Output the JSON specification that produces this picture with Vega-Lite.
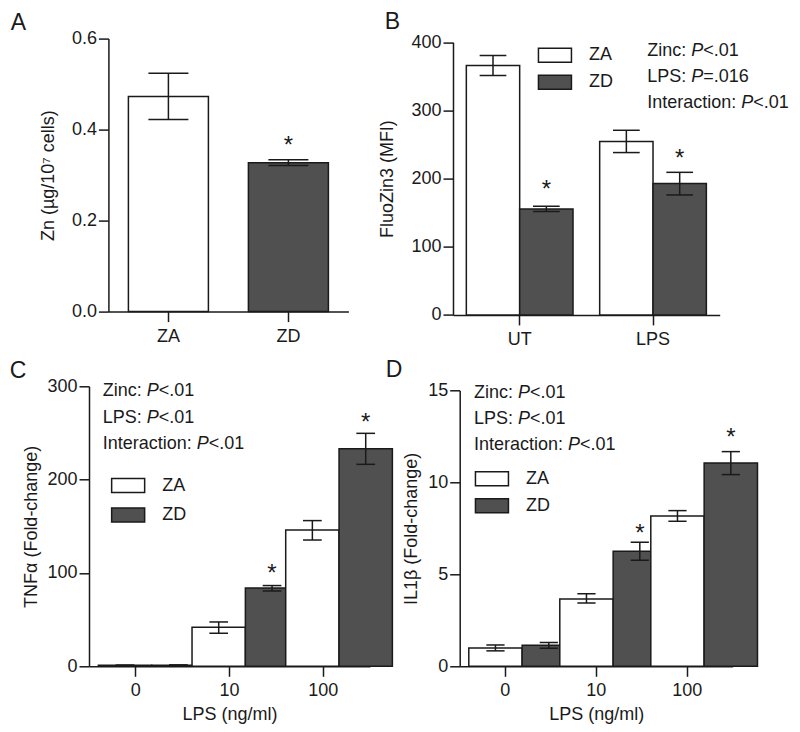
{
  "$schema": "https://vega.github.io/schema/vega-lite/v6.json",
  "autosize": {"type": "pad"},
  "padding": {"left": 9, "top": 10.6, "right": 4, "bottom": 10},
  "background": "white",
  "config": {
    "font": "Liberation Sans",
    "view": {"stroke": null},
    "axis": {"labelFont": "Liberation Sans", "labelFontSize": 18, "labelColor": "#1a1a1a", "titleFont": "Liberation Sans", "titleFontSize": 18, "titleFontWeight": "normal", "titleColor": "#1a1a1a", "domainColor": "#1a1a1a", "domainWidth": 1.5, "tickColor": "#1a1a1a", "tickWidth": 1.5, "tickSize": 10, "grid": false, "labelPadding": 2},
    "axisX": {"labelAngle": 0},
    "legend": {"symbolType": "M-2,-0.85H2V0.85H-2Z", "symbolSize": 272.25, "symbolStrokeColor": "#1a1a1a", "symbolStrokeWidth": 1.5, "symbolOpacity": 1, "labelFont": "Liberation Sans", "labelFontSize": 18, "labelColor": "#1a1a1a", "labelOffset": 25, "rowPadding": 5, "padding": 0},
    "title": {"font": "Liberation Sans", "fontSize": 23, "fontWeight": "normal", "color": "#1a1a1a", "anchor": "start", "frame": "group", "offset": 0},
    "text": {"font": "Liberation Sans", "color": "#1a1a1a"}
  },
  "columns": 2,
  "align": "each",
  "bounds": "flush",
  "spacing": {"row": 70.7, "column": 83},
  "resolve": {"scale": {"fill": "independent"}, "legend": {"fill": "independent"}},
  "concat": [
    {
      "width": 259.4, "height": 273,
      "title": {"text": "A", "dx": -78.3, "dy": 9},
      "layer": [
        {
          "data": {"values": [
            {"diet": "ZA", "zn": 0.473, "lo": 0.422, "hi": 0.524},
            {"diet": "ZD", "zn": 0.327, "lo": 0.321, "hi": 0.334, "star": 0.369}
          ]},
          "encoding": {
            "x": {"field": "diet", "type": "nominal", "scale": {"domain": ["ZA", "ZD"], "range": [19.4, 259.4], "paddingInner": 0.3333, "paddingOuter": 0.1667}, "axis": {"title": null, "labelPadding": 6}}
          },
          "layer": [
            {"mark": {"type": "bar", "stroke": "#1a1a1a", "strokeWidth": 1.5},
             "encoding": {
               "y": {"field": "zn", "type": "quantitative", "title": "Zn (µg/10⁷ cells)", "scale": {"domain": [0, 0.6], "nice": false}, "axis": {"values": [0, 0.2, 0.4, 0.6], "format": ".1f", "offset": -19.4, "titlePadding": 14}},
               "fill": {"field": "diet", "type": "nominal", "scale": {"domain": ["ZA", "ZD"], "range": ["#ffffff", "#505050"]}, "legend": null}
             }},
            {"mark": {"type": "rule", "strokeWidth": 1.5, "color": "#1a1a1a"},
             "encoding": {"y": {"field": "lo", "type": "quantitative", "title": "Zn (µg/10⁷ cells)"}, "y2": {"field": "hi"}}},
            {"mark": {"type": "tick", "orient": "horizontal", "size": 40, "thickness": 1.5, "color": "#1a1a1a", "opacity": 1},
             "encoding": {"y": {"field": "lo", "type": "quantitative", "title": "Zn (µg/10⁷ cells)"}}},
            {"mark": {"type": "tick", "orient": "horizontal", "size": 40, "thickness": 1.5, "color": "#1a1a1a", "opacity": 1},
             "encoding": {"y": {"field": "hi", "type": "quantitative", "title": "Zn (µg/10⁷ cells)"}}},
            {"transform": [{"filter": "isValid(datum.star)"}],
             "mark": {"type": "text", "text": "*", "fontSize": 24, "baseline": "middle", "dy": 2},
             "encoding": {"y": {"field": "star", "type": "quantitative", "title": "Zn (µg/10⁷ cells)"}}}
          ]
        }
      ]
    },
    {
      "width": 266.7, "height": 276.3,
      "title": {"text": "B", "dx": -68.3, "dy": 4.3},
      "layer": [
        {
          "data": {"values": [
            {"treat": "UT", "diet": "ZA", "mfi": 366, "lo": 351.1, "hi": 380.5},
            {"treat": "UT", "diet": "ZD", "mfi": 155.5, "lo": 151.6, "hi": 159.4, "star": 186.5},
            {"treat": "LPS", "diet": "ZA", "mfi": 254.3, "lo": 238.2, "hi": 270.9},
            {"treat": "LPS", "diet": "ZD", "mfi": 192.7, "lo": 176, "hi": 209.2, "star": 231.8}
          ]},
          "encoding": {
            "x": {"field": "treat", "type": "nominal", "scale": {"domain": ["UT", "LPS"], "paddingInner": 0.2, "paddingOuter": 0.1}, "axis": {"title": null, "labelPadding": 6}},
            "xOffset": {"field": "diet", "type": "nominal", "scale": {"domain": ["ZA", "ZD"]}}
          },
          "layer": [
            {"mark": {"type": "bar", "stroke": "#1a1a1a", "strokeWidth": 1.5},
             "encoding": {
               "y": {"field": "mfi", "type": "quantitative", "title": "FluoZin3 (MFI)", "scale": {"domain": [0, 400], "nice": false, "range": [276.3, 3.7]}, "axis": {"values": [0, 100, 200, 300, 400], "titlePadding": 14}},
               "fill": {"field": "diet", "type": "nominal", "scale": {"domain": ["ZA", "ZD"], "range": ["#ffffff", "#505050"]}, "legend": {"title": null, "orient": "none", "legendX": 92.95, "legendY": 7.6}}
             }},
            {"mark": {"type": "rule", "strokeWidth": 1.5, "color": "#1a1a1a"},
             "encoding": {"y": {"field": "lo", "type": "quantitative", "title": "FluoZin3 (MFI)"}, "y2": {"field": "hi"}}},
            {"mark": {"type": "tick", "orient": "horizontal", "size": 26.7, "thickness": 1.5, "color": "#1a1a1a", "opacity": 1},
             "encoding": {"y": {"field": "lo", "type": "quantitative", "title": "FluoZin3 (MFI)"}}},
            {"mark": {"type": "tick", "orient": "horizontal", "size": 26.7, "thickness": 1.5, "color": "#1a1a1a", "opacity": 1},
             "encoding": {"y": {"field": "hi", "type": "quantitative", "title": "FluoZin3 (MFI)"}}},
            {"transform": [{"filter": "isValid(datum.star)"}],
             "mark": {"type": "text", "text": "*", "fontSize": 24, "baseline": "middle", "dy": 2},
             "encoding": {"y": {"field": "star", "type": "quantitative", "title": "FluoZin3 (MFI)"}}}
          ]
        },
        {"data": {"values": [{}]}, "mark": {"type": "text", "align": "left", "baseline": "alphabetic", "fontSize": 18, "lineHeight": 26, "dx": -5.8, "dy": 14, "text": ["Zinc: ", "LPS: ", "Interaction: "]},
         "encoding": {"x": {"datum": "LPS", "type": "nominal"}, "y": {"datum": 400, "type": "quantitative"}}},
        {"data": {"values": [{}]}, "mark": {"type": "text", "align": "left", "baseline": "alphabetic", "fontSize": 18, "fontStyle": "italic", "lineHeight": 26, "dx": 38.2, "dy": 14, "text": ["P", "P"]},
         "encoding": {"x": {"datum": "LPS", "type": "nominal"}, "y": {"datum": 400, "type": "quantitative"}}},
        {"data": {"values": [{}]}, "mark": {"type": "text", "align": "left", "baseline": "alphabetic", "fontSize": 18, "lineHeight": 26, "dx": 50.2, "dy": 14, "text": ["<.01", "=.016"]},
         "encoding": {"x": {"datum": "LPS", "type": "nominal"}, "y": {"datum": 400, "type": "quantitative"}}},
        {"data": {"values": [{}]}, "mark": {"type": "text", "align": "left", "baseline": "alphabetic", "fontSize": 18, "fontStyle": "italic", "dx": 88.25, "dy": 66, "text": "P"},
         "encoding": {"x": {"datum": "LPS", "type": "nominal"}, "y": {"datum": 400, "type": "quantitative"}}},
        {"data": {"values": [{}]}, "mark": {"type": "text", "align": "left", "baseline": "alphabetic", "fontSize": 18, "dx": 100.25, "dy": 66, "text": "<.01"},
         "encoding": {"x": {"datum": "LPS", "type": "nominal"}, "y": {"datum": 400, "type": "quantitative"}}}
      ]
    },
    {
      "width": 281, "height": 280,
      "title": {"text": "C", "dx": -79.3, "dy": 9.3},
      "layer": [
        {
          "data": {"values": [
            {"lps": "0", "diet": "ZA", "tnf": 1.0, "lo": 0.7, "hi": 1.3},
            {"lps": "0", "diet": "ZD", "tnf": 1.2, "lo": 0.9, "hi": 1.5},
            {"lps": "10", "diet": "ZA", "tnf": 41.8, "lo": 35.4, "hi": 47.5},
            {"lps": "10", "diet": "ZD", "tnf": 83.9, "lo": 80.7, "hi": 86.5, "star": 101.5},
            {"lps": "100", "diet": "ZA", "tnf": 146, "lo": 135.3, "hi": 156.1},
            {"lps": "100", "diet": "ZD", "tnf": 233.2, "lo": 216.4, "hi": 249.6, "star": 263}
          ]},
          "encoding": {
            "x": {"field": "lps", "type": "nominal", "scale": {"domain": ["0", "10", "100"], "paddingInner": 0.2, "paddingOuter": 0.1}, "axis": {"title": "LPS (ng/ml)", "labelPadding": 5, "titlePadding": 6}},
            "xOffset": {"field": "diet", "type": "nominal", "scale": {"domain": ["ZA", "ZD"]}}
          },
          "layer": [
            {"mark": {"type": "bar", "stroke": "#1a1a1a", "strokeWidth": 1.5},
             "encoding": {
               "y": {"field": "tnf", "type": "quantitative", "title": "TNFα (Fold-change)", "scale": {"domain": [0, 300], "nice": false}, "axis": {"values": [0, 100, 200, 300], "titlePadding": 6}},
               "fill": {"field": "diet", "type": "nominal", "scale": {"domain": ["ZA", "ZD"], "range": ["#ffffff", "#505050"]}, "legend": {"title": null, "orient": "none", "legendX": 30.15, "legendY": 90.3, "rowPadding": 7.4}}
             }},
            {"mark": {"type": "rule", "strokeWidth": 1.5, "color": "#1a1a1a"},
             "encoding": {"y": {"field": "lo", "type": "quantitative", "title": "TNFα (Fold-change)"}, "y2": {"field": "hi"}}},
            {"mark": {"type": "tick", "orient": "horizontal", "size": 18.7, "thickness": 1.5, "color": "#1a1a1a", "opacity": 1},
             "encoding": {"y": {"field": "lo", "type": "quantitative", "title": "TNFα (Fold-change)"}}},
            {"mark": {"type": "tick", "orient": "horizontal", "size": 18.7, "thickness": 1.5, "color": "#1a1a1a", "opacity": 1},
             "encoding": {"y": {"field": "hi", "type": "quantitative", "title": "TNFα (Fold-change)"}}},
            {"transform": [{"filter": "isValid(datum.star)"}],
             "mark": {"type": "text", "text": "*", "fontSize": 24, "baseline": "middle", "dy": 2},
             "encoding": {"y": {"field": "star", "type": "quantitative", "title": "TNFα (Fold-change)"}}}
          ]
        },
        {"data": {"values": [{}]}, "mark": {"type": "text", "align": "left", "baseline": "alphabetic", "fontSize": 18, "lineHeight": 26.3, "dx": -33.1, "dy": 10, "text": ["Zinc: ", "LPS: ", "Interaction: "]},
         "encoding": {"x": {"datum": "0", "type": "nominal"}, "y": {"datum": 300, "type": "quantitative"}}},
        {"data": {"values": [{}]}, "mark": {"type": "text", "align": "left", "baseline": "alphabetic", "fontSize": 18, "fontStyle": "italic", "lineHeight": 26.3, "dx": 10.9, "dy": 10, "text": ["P", "P"]},
         "encoding": {"x": {"datum": "0", "type": "nominal"}, "y": {"datum": 300, "type": "quantitative"}}},
        {"data": {"values": [{}]}, "mark": {"type": "text", "align": "left", "baseline": "alphabetic", "fontSize": 18, "lineHeight": 26.3, "dx": 22.9, "dy": 10, "text": ["<.01", "<.01"]},
         "encoding": {"x": {"datum": "0", "type": "nominal"}, "y": {"datum": 300, "type": "quantitative"}}},
        {"data": {"values": [{}]}, "mark": {"type": "text", "align": "left", "baseline": "alphabetic", "fontSize": 18, "fontStyle": "italic", "dx": 60.95, "dy": 62.6, "text": "P"},
         "encoding": {"x": {"datum": "0", "type": "nominal"}, "y": {"datum": 300, "type": "quantitative"}}},
        {"data": {"values": [{}]}, "mark": {"type": "text", "align": "left", "baseline": "alphabetic", "fontSize": 18, "dx": 72.95, "dy": 62.6, "text": "<.01"},
         "encoding": {"x": {"datum": "0", "type": "nominal"}, "y": {"datum": 300, "type": "quantitative"}}}
      ]
    },
    {
      "width": 279.7, "height": 280,
      "title": {"text": "D", "dx": -67.3, "dy": 4.7},
      "layer": [
        {
          "data": {"values": [
            {"lps": "0", "diet": "ZA", "il1b": 1.0, "lo": 0.84, "hi": 1.16},
            {"lps": "0", "diet": "ZD", "il1b": 1.14, "lo": 0.98, "hi": 1.30},
            {"lps": "10", "diet": "ZA", "il1b": 3.66, "lo": 3.44, "hi": 3.95},
            {"lps": "10", "diet": "ZD", "il1b": 6.26, "lo": 5.77, "hi": 6.75, "star": 7.29},
            {"lps": "100", "diet": "ZA", "il1b": 8.18, "lo": 7.89, "hi": 8.47},
            {"lps": "100", "diet": "ZD", "il1b": 11.06, "lo": 10.43, "hi": 11.68, "star": 12.51}
          ]},
          "encoding": {
            "x": {"field": "lps", "type": "nominal", "scale": {"domain": ["0", "10", "100"], "range": [6.7, 279.7], "paddingInner": 0.2, "paddingOuter": 0.1}, "axis": {"title": "LPS (ng/ml)", "labelPadding": 5, "titlePadding": 6}},
            "xOffset": {"field": "diet", "type": "nominal", "scale": {"domain": ["ZA", "ZD"]}}
          },
          "layer": [
            {"mark": {"type": "bar", "stroke": "#1a1a1a", "strokeWidth": 1.5},
             "encoding": {
               "y": {"field": "il1b", "type": "quantitative", "title": "IL1β (Fold-change)", "scale": {"domain": [0, 15], "nice": false, "range": [280, 4.3]}, "axis": {"values": [0, 5, 10, 15], "offset": -6.7, "titlePadding": 7}},
               "fill": {"field": "diet", "type": "nominal", "scale": {"domain": ["ZA", "ZD"], "range": ["#ffffff", "#505050"]}, "legend": {"title": null, "orient": "none", "legendX": 29.95, "legendY": 83.4}}
             }},
            {"mark": {"type": "rule", "strokeWidth": 1.5, "color": "#1a1a1a"},
             "encoding": {"y": {"field": "lo", "type": "quantitative", "title": "IL1β (Fold-change)"}, "y2": {"field": "hi"}}},
            {"mark": {"type": "tick", "orient": "horizontal", "size": 18.2, "thickness": 1.5, "color": "#1a1a1a", "opacity": 1},
             "encoding": {"y": {"field": "lo", "type": "quantitative", "title": "IL1β (Fold-change)"}}},
            {"mark": {"type": "tick", "orient": "horizontal", "size": 18.2, "thickness": 1.5, "color": "#1a1a1a", "opacity": 1},
             "encoding": {"y": {"field": "hi", "type": "quantitative", "title": "IL1β (Fold-change)"}}},
            {"transform": [{"filter": "isValid(datum.star)"}],
             "mark": {"type": "text", "text": "*", "fontSize": 24, "baseline": "middle", "dy": 2},
             "encoding": {"y": {"field": "star", "type": "quantitative", "title": "IL1β (Fold-change)"}}}
          ]
        },
        {"data": {"values": [{}]}, "mark": {"type": "text", "align": "left", "baseline": "alphabetic", "fontSize": 18, "lineHeight": 26, "dx": -31.2, "dy": 7.4, "text": ["Zinc: ", "LPS: ", "Interaction: "]},
         "encoding": {"x": {"datum": "0", "type": "nominal"}, "y": {"datum": 15, "type": "quantitative"}}},
        {"data": {"values": [{}]}, "mark": {"type": "text", "align": "left", "baseline": "alphabetic", "fontSize": 18, "fontStyle": "italic", "lineHeight": 26, "dx": 12.8, "dy": 7.4, "text": ["P", "P"]},
         "encoding": {"x": {"datum": "0", "type": "nominal"}, "y": {"datum": 15, "type": "quantitative"}}},
        {"data": {"values": [{}]}, "mark": {"type": "text", "align": "left", "baseline": "alphabetic", "fontSize": 18, "lineHeight": 26, "dx": 24.8, "dy": 7.4, "text": ["<.01", "<.01"]},
         "encoding": {"x": {"datum": "0", "type": "nominal"}, "y": {"datum": 15, "type": "quantitative"}}},
        {"data": {"values": [{}]}, "mark": {"type": "text", "align": "left", "baseline": "alphabetic", "fontSize": 18, "fontStyle": "italic", "dx": 62.85, "dy": 59.4, "text": "P"},
         "encoding": {"x": {"datum": "0", "type": "nominal"}, "y": {"datum": 15, "type": "quantitative"}}},
        {"data": {"values": [{}]}, "mark": {"type": "text", "align": "left", "baseline": "alphabetic", "fontSize": 18, "dx": 74.85, "dy": 59.4, "text": "<.01"},
         "encoding": {"x": {"datum": "0", "type": "nominal"}, "y": {"datum": 15, "type": "quantitative"}}}
      ]
    }
  ]
}
